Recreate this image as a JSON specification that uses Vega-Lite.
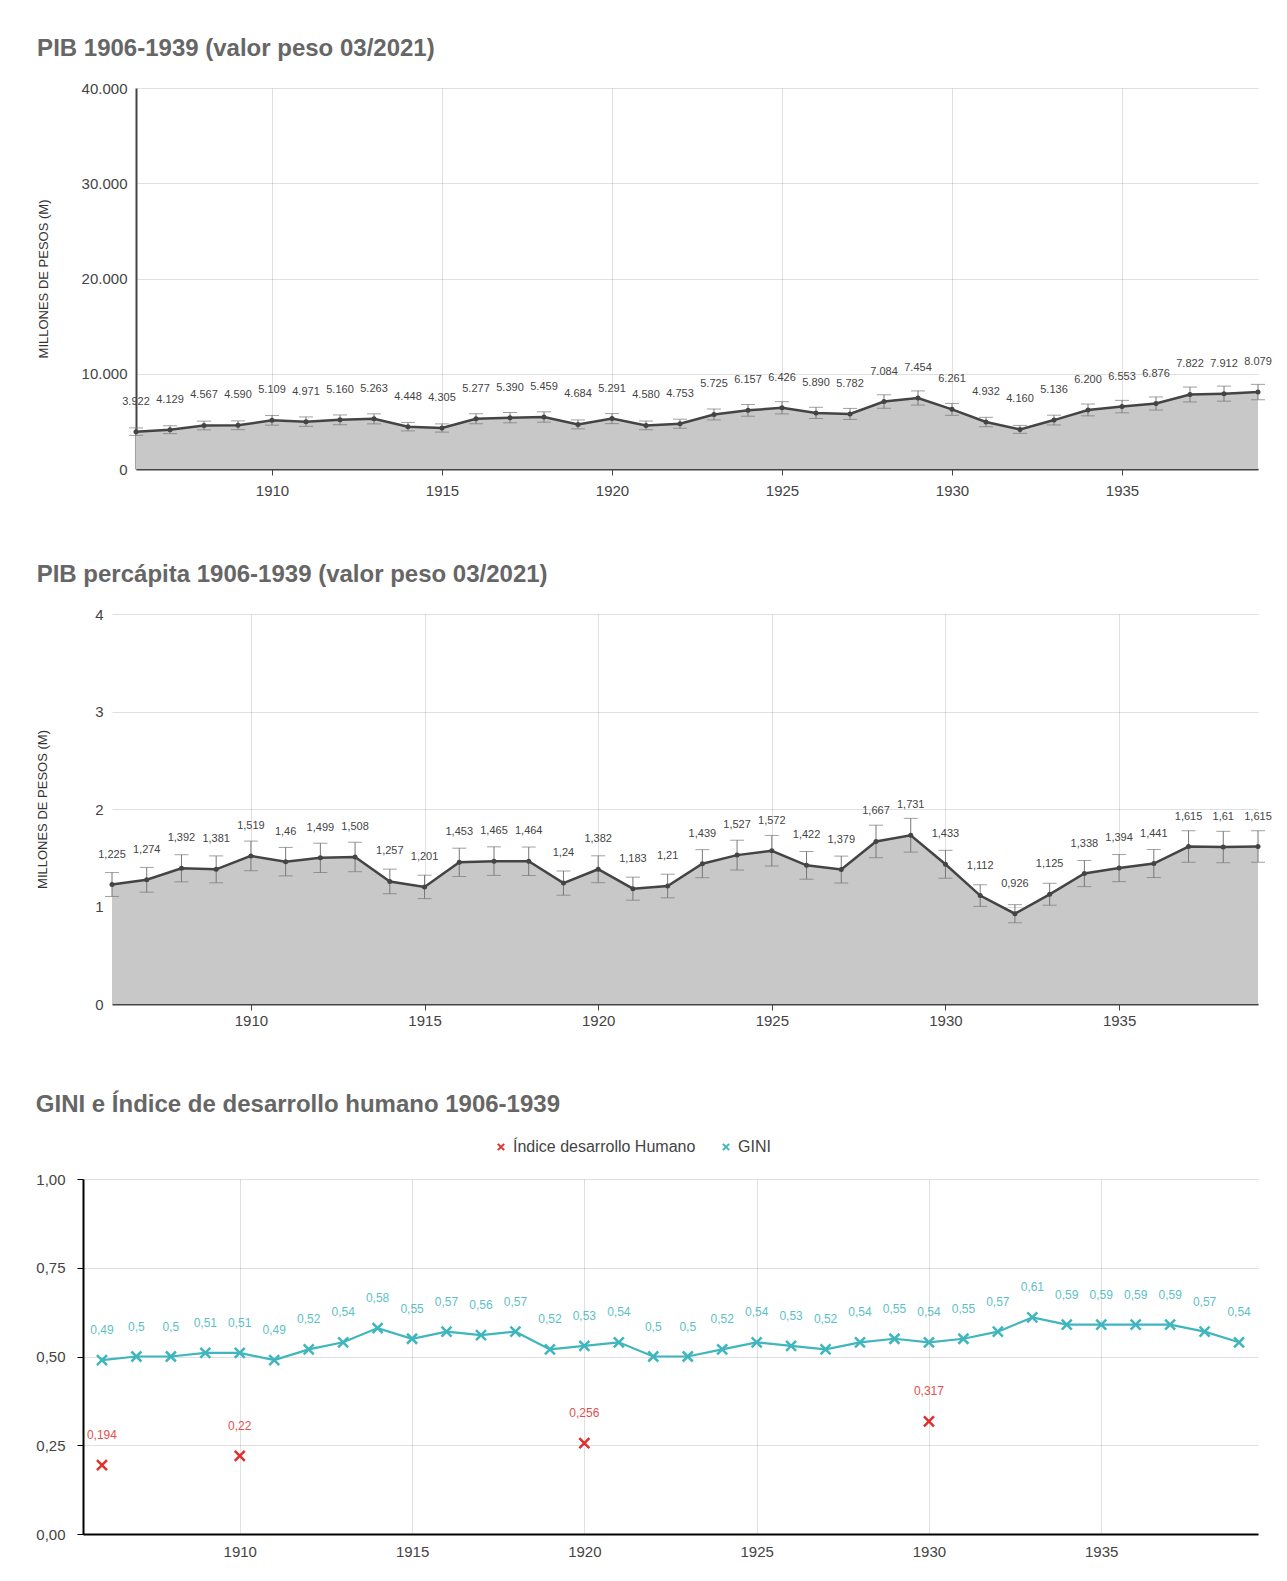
{
  "$schema": "https://vega.github.io/schema/vega-lite/v6.json",
  "padding": {"left": 35, "top": 37, "right": 10, "bottom": 0},
  "columns": 1,
  "align": "none",
  "spacing": 65,
  "resolve": {"legend": {"color": "independent"}, "scale": {"color": "independent"}},
  "config": {
    "locale": {"number": {"decimal": ",", "thousands": ".", "grouping": [3], "currency": ["$", ""]}},
    "view": {"stroke": null},
    "font": "Liberation Sans",
    "title": {"fontSize": 24, "fontWeight": "bold", "color": "#666", "anchor": "start", "offset": 20, "font": "Liberation Sans"},
    "axis": {"labelFont": "Liberation Sans", "labelFontSize": 15, "labelColor": "#444", "gridColor": "#000", "gridOpacity": 0.12, "domainColor": "#444", "tickColor": "#444", "titleFont": "Liberation Sans", "zindex": 1}
  },
  "datasets": {
    "pib": [
      {"year": 1906, "v": 3922, "lo": 3530, "hi": 4314},
      {"year": 1907, "v": 4129, "lo": 3716, "hi": 4542},
      {"year": 1908, "v": 4567, "lo": 4110, "hi": 5024},
      {"year": 1909, "v": 4590, "lo": 4131, "hi": 5049},
      {"year": 1910, "v": 5109, "lo": 4598, "hi": 5620},
      {"year": 1911, "v": 4971, "lo": 4474, "hi": 5468},
      {"year": 1912, "v": 5160, "lo": 4644, "hi": 5676},
      {"year": 1913, "v": 5263, "lo": 4737, "hi": 5789},
      {"year": 1914, "v": 4448, "lo": 4003, "hi": 4893},
      {"year": 1915, "v": 4305, "lo": 3875, "hi": 4736},
      {"year": 1916, "v": 5277, "lo": 4749, "hi": 5805},
      {"year": 1917, "v": 5390, "lo": 4851, "hi": 5929},
      {"year": 1918, "v": 5459, "lo": 4913, "hi": 6005},
      {"year": 1919, "v": 4684, "lo": 4216, "hi": 5152},
      {"year": 1920, "v": 5291, "lo": 4762, "hi": 5820},
      {"year": 1921, "v": 4580, "lo": 4122, "hi": 5038},
      {"year": 1922, "v": 4753, "lo": 4278, "hi": 5228},
      {"year": 1923, "v": 5725, "lo": 5153, "hi": 6298},
      {"year": 1924, "v": 6157, "lo": 5541, "hi": 6773},
      {"year": 1925, "v": 6426, "lo": 5783, "hi": 7069},
      {"year": 1926, "v": 5890, "lo": 5301, "hi": 6479},
      {"year": 1927, "v": 5782, "lo": 5204, "hi": 6360},
      {"year": 1928, "v": 7084, "lo": 6376, "hi": 7792},
      {"year": 1929, "v": 7454, "lo": 6709, "hi": 8199},
      {"year": 1930, "v": 6261, "lo": 5635, "hi": 6887},
      {"year": 1931, "v": 4932, "lo": 4439, "hi": 5425},
      {"year": 1932, "v": 4160, "lo": 3744, "hi": 4576},
      {"year": 1933, "v": 5136, "lo": 4622, "hi": 5650},
      {"year": 1934, "v": 6200, "lo": 5580, "hi": 6820},
      {"year": 1935, "v": 6553, "lo": 5898, "hi": 7208},
      {"year": 1936, "v": 6876, "lo": 6188, "hi": 7564},
      {"year": 1937, "v": 7822, "lo": 7040, "hi": 8604},
      {"year": 1938, "v": 7912, "lo": 7121, "hi": 8703},
      {"year": 1939, "v": 8079, "lo": 7271, "hi": 8887}
    ],
    "pc": [
      {"year": 1906, "v": 1.225, "lo": 1.103, "hi": 1.348},
      {"year": 1907, "v": 1.274, "lo": 1.147, "hi": 1.401},
      {"year": 1908, "v": 1.392, "lo": 1.253, "hi": 1.531},
      {"year": 1909, "v": 1.381, "lo": 1.243, "hi": 1.519},
      {"year": 1910, "v": 1.519, "lo": 1.367, "hi": 1.671},
      {"year": 1911, "v": 1.46, "lo": 1.314, "hi": 1.606},
      {"year": 1912, "v": 1.499, "lo": 1.349, "hi": 1.649},
      {"year": 1913, "v": 1.508, "lo": 1.357, "hi": 1.659},
      {"year": 1914, "v": 1.257, "lo": 1.131, "hi": 1.383},
      {"year": 1915, "v": 1.201, "lo": 1.081, "hi": 1.321},
      {"year": 1916, "v": 1.453, "lo": 1.308, "hi": 1.598},
      {"year": 1917, "v": 1.465, "lo": 1.319, "hi": 1.612},
      {"year": 1918, "v": 1.464, "lo": 1.318, "hi": 1.61},
      {"year": 1919, "v": 1.24, "lo": 1.116, "hi": 1.364},
      {"year": 1920, "v": 1.382, "lo": 1.244, "hi": 1.52},
      {"year": 1921, "v": 1.183, "lo": 1.065, "hi": 1.301},
      {"year": 1922, "v": 1.21, "lo": 1.089, "hi": 1.331},
      {"year": 1923, "v": 1.439, "lo": 1.295, "hi": 1.583},
      {"year": 1924, "v": 1.527, "lo": 1.374, "hi": 1.68},
      {"year": 1925, "v": 1.572, "lo": 1.415, "hi": 1.729},
      {"year": 1926, "v": 1.422, "lo": 1.28, "hi": 1.564},
      {"year": 1927, "v": 1.379, "lo": 1.241, "hi": 1.517},
      {"year": 1928, "v": 1.667, "lo": 1.5, "hi": 1.834},
      {"year": 1929, "v": 1.731, "lo": 1.558, "hi": 1.904},
      {"year": 1930, "v": 1.433, "lo": 1.29, "hi": 1.576},
      {"year": 1931, "v": 1.112, "lo": 1.001, "hi": 1.223},
      {"year": 1932, "v": 0.926, "lo": 0.833, "hi": 1.019},
      {"year": 1933, "v": 1.125, "lo": 1.013, "hi": 1.238},
      {"year": 1934, "v": 1.338, "lo": 1.204, "hi": 1.472},
      {"year": 1935, "v": 1.394, "lo": 1.255, "hi": 1.533},
      {"year": 1936, "v": 1.441, "lo": 1.297, "hi": 1.585},
      {"year": 1937, "v": 1.615, "lo": 1.454, "hi": 1.777},
      {"year": 1938, "v": 1.61, "lo": 1.449, "hi": 1.771},
      {"year": 1939, "v": 1.615, "lo": 1.454, "hi": 1.777}
    ],
    "gini": [
      {"year": 1906, "serie": "GINI", "v": 0.49},
      {"year": 1907, "serie": "GINI", "v": 0.5},
      {"year": 1908, "serie": "GINI", "v": 0.5},
      {"year": 1909, "serie": "GINI", "v": 0.51},
      {"year": 1910, "serie": "GINI", "v": 0.51},
      {"year": 1911, "serie": "GINI", "v": 0.49},
      {"year": 1912, "serie": "GINI", "v": 0.52},
      {"year": 1913, "serie": "GINI", "v": 0.54},
      {"year": 1914, "serie": "GINI", "v": 0.58},
      {"year": 1915, "serie": "GINI", "v": 0.55},
      {"year": 1916, "serie": "GINI", "v": 0.57},
      {"year": 1917, "serie": "GINI", "v": 0.56},
      {"year": 1918, "serie": "GINI", "v": 0.57},
      {"year": 1919, "serie": "GINI", "v": 0.52},
      {"year": 1920, "serie": "GINI", "v": 0.53},
      {"year": 1921, "serie": "GINI", "v": 0.54},
      {"year": 1922, "serie": "GINI", "v": 0.5},
      {"year": 1923, "serie": "GINI", "v": 0.5},
      {"year": 1924, "serie": "GINI", "v": 0.52},
      {"year": 1925, "serie": "GINI", "v": 0.54},
      {"year": 1926, "serie": "GINI", "v": 0.53},
      {"year": 1927, "serie": "GINI", "v": 0.52},
      {"year": 1928, "serie": "GINI", "v": 0.54},
      {"year": 1929, "serie": "GINI", "v": 0.55},
      {"year": 1930, "serie": "GINI", "v": 0.54},
      {"year": 1931, "serie": "GINI", "v": 0.55},
      {"year": 1932, "serie": "GINI", "v": 0.57},
      {"year": 1933, "serie": "GINI", "v": 0.61},
      {"year": 1934, "serie": "GINI", "v": 0.59},
      {"year": 1935, "serie": "GINI", "v": 0.59},
      {"year": 1936, "serie": "GINI", "v": 0.59},
      {"year": 1937, "serie": "GINI", "v": 0.59},
      {"year": 1938, "serie": "GINI", "v": 0.57},
      {"year": 1939, "serie": "GINI", "v": 0.54},
      {"year": 1906, "serie": "Índice desarrollo Humano", "v": 0.194},
      {"year": 1910, "serie": "Índice desarrollo Humano", "v": 0.22},
      {"year": 1920, "serie": "Índice desarrollo Humano", "v": 0.256},
      {"year": 1930, "serie": "Índice desarrollo Humano", "v": 0.317}
    ]
  },
  "concat": [
    {
      "title": "PIB 1906-1939 (valor peso 03/2021)",
      "width": 1175,
      "height": 381,
      "data": {"name": "pib"},
      "encoding": {
        "x": {"field": "year", "type": "quantitative", "scale": {"domain": [1906, 1939], "range": [53, 1175], "nice": false, "zero": false},
          "axis": {"values": [1910, 1915, 1920, 1925, 1930, 1935], "format": "d", "title": null, "grid": true, "tickSize": 6, "labelPadding": 8, "domainWidth": 2}}
      },
      "layer": [
        {"mark": {"type": "area", "color": "#c8c8c8"},
          "encoding": {"y": {"field": "v", "type": "quantitative", "scale": {"domain": [0, 40000], "nice": false}, "title": "MILLONES DE PESOS (M)",
            "axis": {"values": [0, 10000, 20000, 30000, 40000], "format": ",d", "offset": -53, "titleFontSize": 13, "titleFontWeight": "normal", "titleColor": "#333", "titlePadding": 31, "ticks": false, "labelPadding": 9, "domain": true, "domainWidth": 2}}}},
        {"mark": {"type": "errorbar", "ticks": {"size": 14}, "color": "#777"},
          "encoding": {"y": {"field": "lo", "type": "quantitative", "title": "MILLONES DE PESOS (M)"}, "y2": {"field": "hi"}}},
        {"mark": {"type": "line", "color": "#444", "strokeWidth": 2.5, "point": {"color": "#444", "size": 25}},
          "encoding": {"y": {"field": "v", "type": "quantitative", "title": "MILLONES DE PESOS (M)"}}},
        {"mark": {"type": "text", "dy": -30, "fontSize": 11, "color": "#444"},
          "encoding": {"y": {"field": "v", "type": "quantitative", "title": "MILLONES DE PESOS (M)"}, "text": {"field": "v", "type": "quantitative", "format": ",d"}}}
      ]
    },
    {
      "title": "PIB percápita 1906-1939 (valor peso 03/2021)",
      "width": 1175,
      "height": 390,
      "data": {"name": "pc"},
      "encoding": {
        "x": {"field": "year", "type": "quantitative", "scale": {"domain": [1906, 1939], "range": [29, 1175], "nice": false, "zero": false},
          "axis": {"values": [1910, 1915, 1920, 1925, 1930, 1935], "format": "d", "title": null, "grid": true, "tickSize": 6, "labelPadding": 3, "domainWidth": 2}}
      },
      "layer": [
        {"mark": {"type": "area", "color": "#c8c8c8"},
          "encoding": {"y": {"field": "v", "type": "quantitative", "scale": {"domain": [0, 4], "nice": false}, "title": "MILLONES DE PESOS (M)",
            "axis": {"values": [0, 1, 2, 3, 4], "format": "d", "offset": -29, "titleFontSize": 13, "titleFontWeight": "normal", "titleColor": "#333", "titlePadding": 45, "ticks": false, "labelPadding": 9, "domain": false}}}},
        {"mark": {"type": "errorbar", "ticks": {"size": 14}, "color": "#777"},
          "encoding": {"y": {"field": "lo", "type": "quantitative", "title": "MILLONES DE PESOS (M)"}, "y2": {"field": "hi"}}},
        {"mark": {"type": "line", "color": "#444", "strokeWidth": 2.5, "point": {"color": "#444", "size": 25}},
          "encoding": {"y": {"field": "v", "type": "quantitative", "title": "MILLONES DE PESOS (M)"}}},
        {"mark": {"type": "text", "dy": -30, "fontSize": 11, "color": "#444"},
          "encoding": {"y": {"field": "v", "type": "quantitative", "title": "MILLONES DE PESOS (M)"}, "text": {"field": "v", "type": "quantitative", "format": ".4~g"}}}
      ]
    },
    {
      "title": {"text": "GINI e Índice de desarrollo humano 1906-1939", "offset": 22},
      "width": 1175,
      "height": 355,
      "data": {"name": "gini"},
      "encoding": {
        "x": {"field": "year", "type": "quantitative", "scale": {"domain": [1905.45, 1939.55], "nice": false, "zero": false},
          "axis": {"values": [1910, 1915, 1920, 1925, 1930, 1935], "format": "d", "title": null, "grid": true, "ticks": false, "labelPadding": 10, "domainColor": "#000", "domainWidth": 2}},
        "y": {"field": "v", "type": "quantitative", "scale": {"domain": [0, 1], "nice": false},
          "axis": {"values": [0, 0.25, 0.5, 0.75, 1], "format": ".2f", "title": null, "domainColor": "#000", "domainWidth": 2, "tickColor": "#000", "tickSize": 6, "labelPadding": 12}},
        "color": {"field": "serie", "type": "nominal",
          "scale": {"domain": ["Índice desarrollo Humano", "GINI"], "range": ["#e0302c", "#3fb6bd"]},
          "legend": {"orient": "none", "legendX": 410, "legendY": -40, "direction": "horizontal", "title": null, "labelFontSize": 16, "labelLimit": 400, "labelColor": "#444", "columnPadding": 22, "symbolType": "M-1,-1L1,1M1,-1L-1,1", "symbolSize": 40, "symbolStrokeWidth": 2}}
      },
      "layer": [
        {"transform": [{"filter": "datum.serie == 'GINI'"}], "mark": {"type": "line", "strokeWidth": 2.2}},
        {"mark": {"type": "point", "shape": "M-1,-1L1,1M1,-1L-1,1", "size": 100, "strokeWidth": 2.5, "filled": false, "opacity": 1}},
        {"mark": {"type": "text", "dy": -30, "fontSize": 12, "opacity": 0.85},
          "encoding": {"text": {"field": "v", "type": "quantitative", "format": ".3~f"}}}
      ]
    }
  ]
}
